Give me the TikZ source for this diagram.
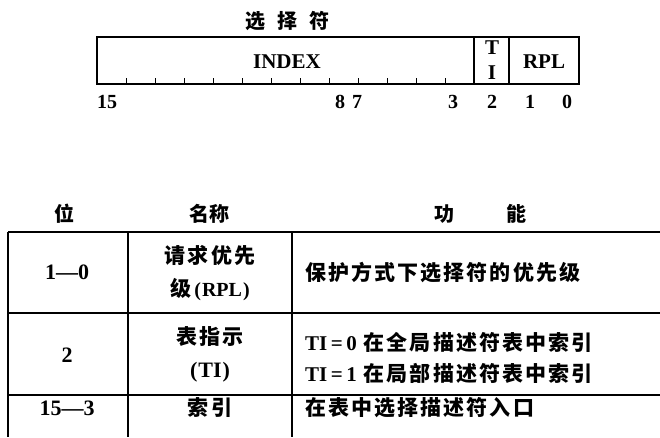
\documentclass[tikz,border=0pt]{standalone}
\usepackage{fontspec}
\setmainfont{Liberation Serif}
\newfontfamily\cjk[LetterSpace=10]{Noto Sans CJK SC}
\newfontfamily\cjkh{Noto Sans CJK SC}
\newcommand{\lat}{\fontspec{Liberation Serif Bold}}
\tikzset{
  frame/.style={line width=1.3pt},
  tline/.style={line width=1.6pt},
  tick/.style={line width=0.8pt},
  bitlab/.style={font=\lat\fontsize{20}{20}\selectfont, inner sep=0pt},
  regtxt/.style={font=\lat\fontsize{21}{21}\selectfont, inner sep=0pt},
  hdr/.style={font=\cjkh\bfseries\fontsize{20}{20}\selectfont, inner sep=0pt},
  cell/.style={font=\cjk\bfseries\fontsize{21}{21}\selectfont, inner sep=0pt},
  num/.style={font=\lat\fontsize{22}{22}\selectfont, inner sep=0pt},
}
\begin{document}
\begin{tikzpicture}[x=1pt,y=-1pt]
\useasboundingbox (0,0) rectangle (660,437);
% register
\node[hdr] (title) at (287,21) {选\hspace{12pt}择\hspace{12pt}符};
\draw[frame] (97,37) rectangle (579,84);
\draw[frame] (474,37) -- (474,84);
\draw[frame] (509,37) -- (509,84);
\foreach \k in {1,...,12} {
  \draw[tick] ({97+29*\k},84) -- ({97+29*\k},78);
}
\node[regtxt] (idx) at (287,62) {INDEX};
\node[regtxt] (t) at (492,48) {T};
\node[regtxt] (i) at (492,73) {I};
\node[regtxt] (rpl) at (544,62) {RPL};
\node[bitlab, anchor=west] (b15) at (97,102) {15};
\node[bitlab] (b8) at (340,102) {8};
\node[bitlab] (b7) at (357,102) {7};
\node[bitlab] (b3) at (453,102) {3};
\node[bitlab] (b2) at (492,102) {2};
\node[bitlab] (b1) at (530,102) {1};
\node[bitlab] (b0) at (567,102) {0};
% table header
\node[hdr] (hwei) at (64,214) {位};
\node[hdr] (hname) at (209,214) {名称};
\node[hdr] (hfunc) at (480,214) {功\hspace{52pt}能};
% table lines
\draw[tline] (8,232) -- (660,232);
\draw[tline] (8,313) -- (660,313);
\draw[tline] (8,395) -- (660,395);
\draw[tline] (8,232) -- (8,437);
\draw[tline] (128,232) -- (128,437);
\draw[tline] (292,232) -- (292,437);
% row 1
\node[num] (r1a) at (67,272) {1—0};
\node[cell] (r1b1) at (210,255) {请求优先};
\node[cell] (r1b2) at (210,290) {级{\lat\fontsize{20}{20}\selectfont\kern3pt(\kern1pt RPL\kern1pt)}};
\node[cell, anchor=west] (r1c) at (305,273) {保护方式下选择符的优先级};
% row 2
\node[num] (r2a) at (67,355) {2};
\node[cell] (r2b1) at (210,337) {表指示};
\node[num] (r2b2) at (210,372) {(\kern1pt TI\kern1pt)};
\node[cell, anchor=west] (r2c1) at (305,342) {{\lat TI\,=\,0} 在全局描述符表中索引};
\node[cell, anchor=west] (r2c2) at (305,373) {{\lat TI\,=\,1} 在局部描述符表中索引};
% row 3
\node[num] (r3a) at (67,408) {15—3};
\node[cell] (r3b) at (210,408) {索引};
\node[cell, anchor=west] (r3c) at (305,408) {在表中选择描述符入口};
\end{tikzpicture}
\end{document}
